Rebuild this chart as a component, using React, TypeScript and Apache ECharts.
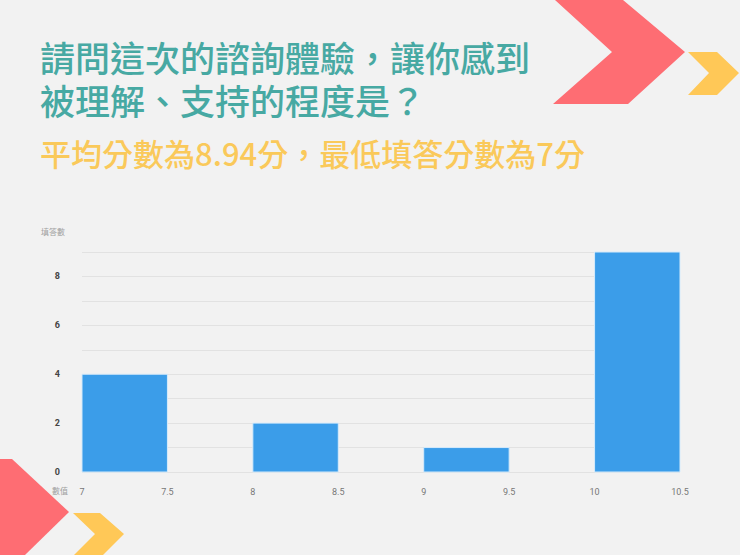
import { useEffect, useRef } from "react";
import * as echarts from "echarts";

const binStarts = [7, 8, 9, 10];
const binEnds = [7.5, 8.5, 9.5, 10.5];
const counts = [4, 2, 1, 9];
const titleLines = ["請問這次的諮詢體驗，讓你感到", "被理解、支持的程度是？"];
const subtitle = "平均分數為8.94分，最低填答分數為7分";

const CJK = '"Noto Sans CJK TC", "Noto Sans", sans-serif';

const App = () => {
  const chartRef = useRef<HTMLDivElement>(null);

  useEffect(() => {
    if (!chartRef.current) return;
    const chart = echarts.init(chartRef.current, null, { renderer: "svg" });

    const barData = binStarts.map((s, i) => [s, binEnds[i], counts[i]]);

    const option: echarts.EChartsOption = {
      animation: false,
      backgroundColor: "#f2f2f2",
      grid: { left: 82, right: 60, top: 252, bottom: 83 },
      xAxis: {
        type: "value",
        min: 7,
        max: 10.5,
        interval: 0.5,
        axisLine: { show: false },
        axisTick: { show: false },
        splitLine: { show: false },
        axisLabel: {
          color: "#777",
          fontSize: 9,
          fontFamily: "Roboto",
          margin: 15,
        },
      },
      yAxis: {
        type: "value",
        min: 0,
        max: 9,
        interval: 1,
        axisLine: { show: false },
        axisTick: { show: false },
        splitLine: { lineStyle: { color: "#e2e2e2", width: 1 } },
        axisLabel: {
          color: "#444",
          fontSize: 9,
          fontWeight: "bold",
          fontFamily: "Roboto",
          margin: 22,
          formatter: (v: number) => (v % 2 === 0 ? String(v) : ""),
        },
      },
      series: [
        {
          type: "custom",
          data: barData,
          encode: { x: [0, 1], y: 2 },
          renderItem: (params: any, api: any) => {
            const p0 = api.coord([api.value(0), 0]);
            const p1 = api.coord([api.value(1), api.value(2)]);
            return {
              type: "rect",
              shape: { x: p0[0], y: p1[1], width: p1[0] - p0[0], height: p0[1] - p1[1] },
              style: { fill: "#3b9de9", stroke: "#d6ebfb", lineWidth: 1 },
            };
          },
        },
      ],
      graphic: [
        {
          type: "polygon",
          shape: { points: [[555, 0], [623, 0], [685, 52], [628, 104], [553, 104], [612, 52]] },
          style: { fill: "#fe6d73" },
        },
        {
          type: "polygon",
          shape: { points: [[688, 52], [717, 52], [739, 73], [717, 95], [688, 95], [709, 73]] },
          style: { fill: "#ffc857" },
        },
        {
          type: "polygon",
          shape: { points: [[0, 459], [12, 459], [69, 512], [25, 555], [0, 555]] },
          style: { fill: "#fe6d73" },
        },
        {
          type: "polygon",
          shape: { points: [[73, 513], [100, 513], [124, 534], [103, 555], [74, 555], [95, 534]] },
          style: { fill: "#ffc857" },
        },
        {
          type: "text",
          left: 40,
          top: 35,
          style: {
            text: titleLines.join("\n"),
            fill: "#47a9a3",
            font: `500 35px ${CJK}`,
            lineHeight: 43,
          },
        },
        {
          type: "text",
          left: 40,
          top: 137,
          style: { text: subtitle, fill: "#fac95a", font: `500 31px ${CJK}` },
        },
        {
          type: "text",
          left: 41,
          top: 227,
          style: { text: "填答數", fill: "#a0a0a0", font: `8px ${CJK}` },
        },
        {
          type: "text",
          left: 52,
          top: 486,
          style: { text: "數值", fill: "#a0a0a0", font: `8px ${CJK}` },
        },
      ],
    };

    chart.setOption(option);
    return () => chart.dispose();
  }, []);

  return (
    <div
      ref={chartRef}
      style={{ position: "fixed", left: 0, top: 0, width: 740, height: 555 }}
    />
  );
};

export default App;
